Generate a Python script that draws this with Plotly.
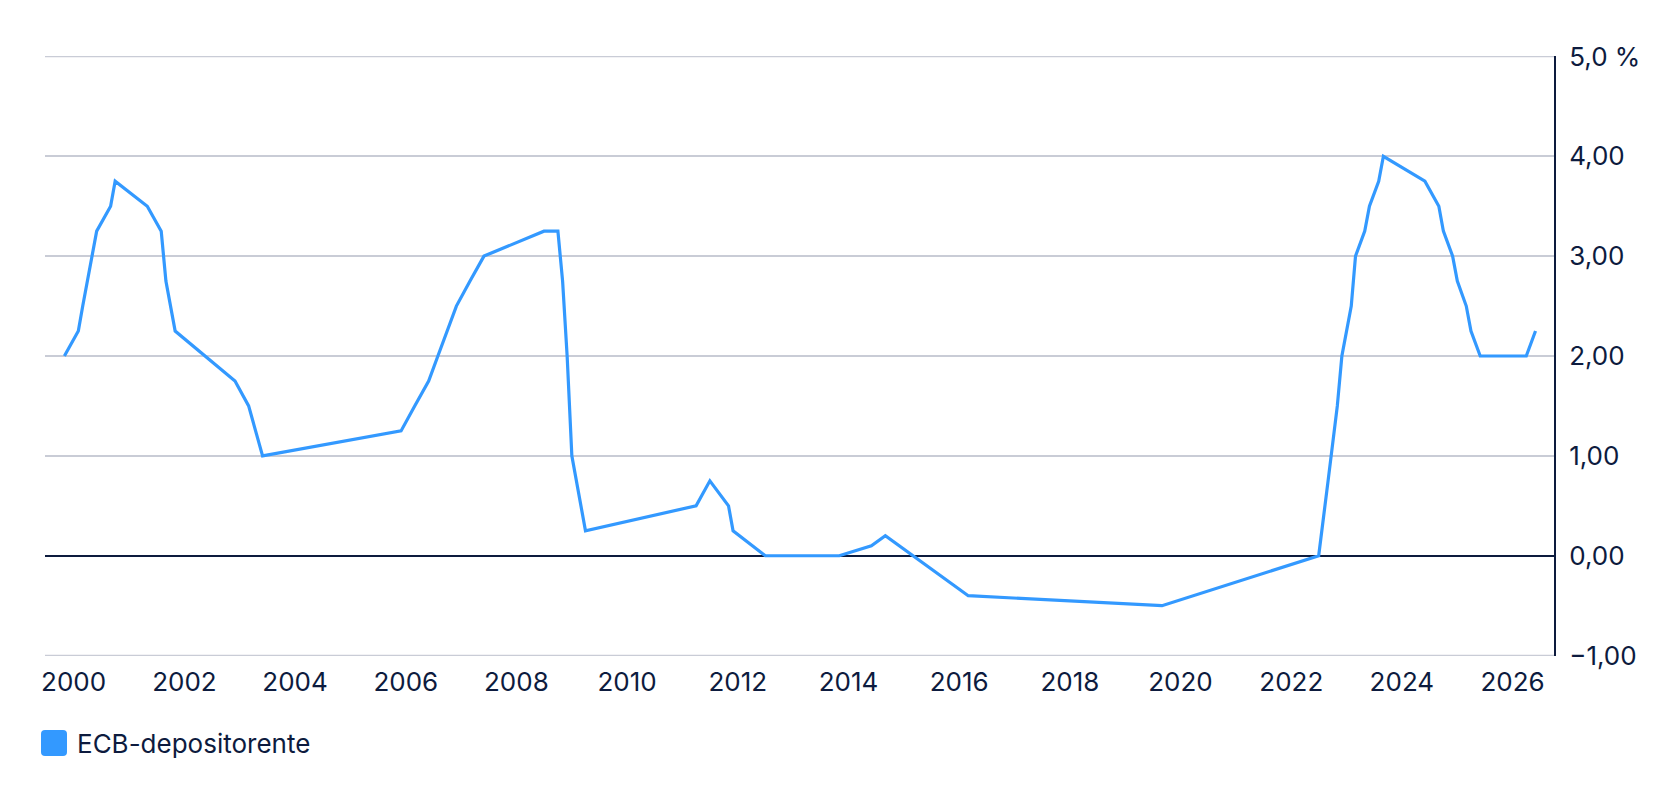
import plotly.graph_objects as go

# ECB deposit rate (%), points at rate-change months
dates = ["1999-11-01", "2000-02-01", "2000-03-01", "2000-04-01", "2000-06-01", "2000-09-01",
         "2000-10-01", "2001-05-01", "2001-08-01", "2001-09-01", "2001-11-01", "2002-12-01",
         "2003-03-01", "2003-06-01", "2005-12-01", "2006-03-01", "2006-06-01", "2006-08-01",
         "2006-10-01", "2006-12-01", "2007-03-01", "2007-06-01", "2008-07-01", "2008-10-01",
         "2008-11-01", "2008-12-01", "2009-01-01", "2009-03-01", "2009-04-01", "2011-04-01",
         "2011-07-01", "2011-11-01", "2011-12-01", "2012-07-01", "2013-05-01", "2013-11-01",
         "2014-06-01", "2014-09-01", "2015-12-01", "2016-03-01", "2019-09-01", "2022-07-01",
         "2022-09-01", "2022-11-01", "2022-12-01", "2023-02-01", "2023-03-01", "2023-05-01",
         "2023-06-01", "2023-08-01", "2023-09-01", "2024-06-01", "2024-09-01", "2024-10-01",
         "2024-12-01", "2025-01-01", "2025-03-01", "2025-04-01", "2025-06-01", "2026-04-01",
         "2026-06-01"]
rates = [2.00, 2.25, 2.50, 2.75, 3.25, 3.50,
         3.75, 3.50, 3.25, 2.75, 2.25, 1.75,
         1.50, 1.00, 1.25, 1.50, 1.75, 2.00,
         2.25, 2.50, 2.75, 3.00, 3.25, 3.25,
         2.75, 2.00, 1.00, 0.50, 0.25, 0.50,
         0.75, 0.50, 0.25, 0.00, 0.00, 0.00,
         0.10, 0.20, -0.30, -0.40, -0.50, 0.00,
         0.75, 1.50, 2.00, 2.50, 3.00, 3.25,
         3.50, 3.75, 4.00, 3.75, 3.50, 3.25,
         3.00, 2.75, 2.50, 2.25, 2.00, 2.00,
         2.25]

series_name = "ECB-depositorente"
y_tickvals = [-1, 0, 1, 2, 3, 4, 5]
y_ticktext = ["\u22121,00", "0,00", "1,00", "2,00", "3,00", "4,00", "5,0 %"]
y_range = [-1, 5]

NAVY = "#0d1b3e"
BLUE = "#3399ff"
GRID = "#c9ccd6"
FONT = "Inter, Roboto, sans-serif"

W, H = 1680, 804
ML, MR, MT, MB = 45, 126, 56, 148
PW, PH = W - ML - MR, H - MT - MB

fig = go.Figure()
fig.add_trace(go.Scatter(
    x=dates, y=rates, mode="lines", name=series_name,
    line=dict(color=BLUE, width=3.2), showlegend=False,
    hoverinfo="x+y",
))

# gridlines at the range edges (plotly omits them)
for yv in y_range:
    fig.add_shape(type="line", xref="paper", yref="y", x0=0, x1=1, y0=yv, y1=yv,
                  line=dict(color=GRID, width=1.5), layer="below")

# legend swatch (rounded square) + label
def px_to_paper(px, py):
    return (px - ML) / PW, (H - MB - py) / PH

x0, y0, x1, y1, r = 41, 730, 67, 756, 4
def P(px, py):
    a, b = px_to_paper(px, py)
    return f"{a:.5f},{b:.5f}"
path = (f"M {P(x0 + r, y0)} L {P(x1 - r, y0)} Q {P(x1, y0)} {P(x1, y0 + r)} "
        f"L {P(x1, y1 - r)} Q {P(x1, y1)} {P(x1 - r, y1)} "
        f"L {P(x0 + r, y1)} Q {P(x0, y1)} {P(x0, y1 - r)} "
        f"L {P(x0, y0 + r)} Q {P(x0, y0)} {P(x0 + r, y0)} Z")
fig.add_shape(type="path", path=path, xref="paper", yref="paper",
              fillcolor=BLUE, line=dict(width=0))
lx, ly = px_to_paper(75, 743)
fig.add_annotation(text=series_name, x=lx, y=ly, xref="paper", yref="paper",
                   xanchor="left", yanchor="middle", showarrow=False,
                   font=dict(family=FONT, size=26, color=NAVY))

fig.update_layout(
    width=W, height=H,
    margin=dict(l=ML, r=MR, t=MT, b=MB),
    paper_bgcolor="white", plot_bgcolor="white",
    font=dict(family=FONT, size=26, color=NAVY),
    showlegend=False,
    xaxis=dict(
        type="date",
        range=["1999-06-26", "2026-10-01"],
        tick0="2000-01-01", dtick="M24", tickformat="%Y",
        showgrid=False, zeroline=False, showline=False, ticks="",
        ticklabelstandoff=8,
        tickfont=dict(family=FONT, size=26, color=NAVY),
    ),
    yaxis=dict(
        side="right",
        range=[y_range[0] - 0.004, y_range[1] + 0.004],
        tickvals=y_tickvals, ticktext=y_ticktext,
        showgrid=True, gridcolor=GRID, gridwidth=1.5,
        zeroline=True, zerolinecolor=NAVY, zerolinewidth=1.5,
        showline=True, linecolor=NAVY, linewidth=2,
        ticks="", ticklabelstandoff=8,
        tickfont=dict(family=FONT, size=26, color=NAVY),
    ),
)

fig.write_html("out.html")
